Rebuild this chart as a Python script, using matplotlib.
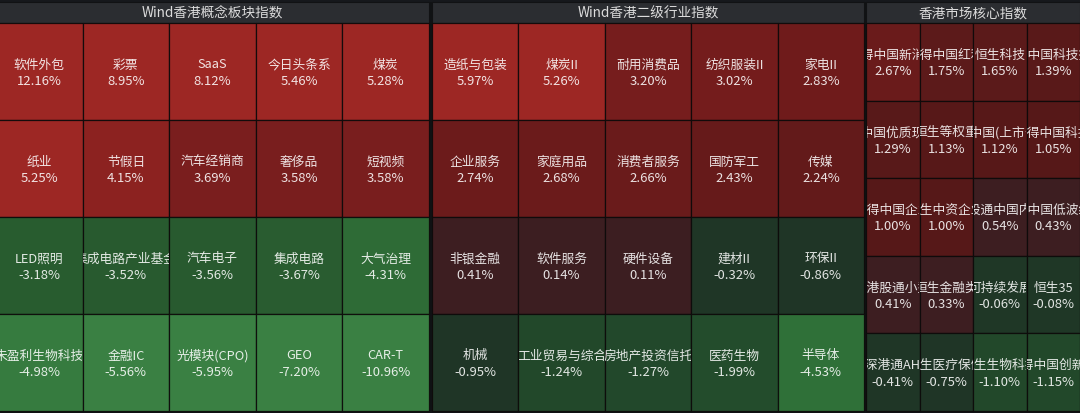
import numpy as np
import matplotlib
matplotlib.use("Agg")
import matplotlib.pyplot as plt
from matplotlib.patches import Rectangle
from matplotlib.transforms import Bbox, TransformedBbox

plt.rcParams['font.family'] = ['Noto Sans CJK SC', 'DejaVu Sans']

# ---------------- data ----------------
panel_titles = ["Wind香港概念板块指数", "Wind香港二级行业指数", "香港市场核心指数"]

concept_names = ["软件外包", "彩票", "SaaS", "今日头条系", "煤炭",
                 "纸业", "节假日", "汽车经销商", "奢侈品", "短视频",
                 "LED照明", "集成电路产业基金", "汽车电子", "集成电路", "大气治理",
                 "未盈利生物科技", "金融IC", "光模块(CPO)", "GEO", "CAR-T"]
concept_values = [12.16, 8.95, 8.12, 5.46, 5.28,
                  5.25, 4.15, 3.69, 3.58, 3.58,
                  -3.18, -3.52, -3.56, -3.67, -4.31,
                  -4.98, -5.56, -5.95, -7.20, -10.96]

industry_names = ["造纸与包装", "煤炭II", "耐用消费品", "纺织服装II", "家电II",
                  "企业服务", "家庭用品", "消费者服务", "国防军工", "传媒",
                  "非银金融", "软件服务", "硬件设备", "建材II", "环保II",
                  "机械", "工业贸易与综合", "房地产投资信托", "医药生物", "半导体"]
industry_values = [5.97, 5.26, 3.20, 3.02, 2.83,
                   2.74, 2.68, 2.66, 2.43, 2.24,
                   0.41, 0.14, 0.11, -0.32, -0.86,
                   -0.95, -1.24, -1.27, -1.99, -4.53]

core_names = ["万得中国新消费", "万得中国红利", "恒生科技", "恒生中国科技指数",
              "恒生中国优质现金流", "恒生等权重", "恒生中国(上市公司)", "万得中国科技",
              "万得中国企业", "恒生中资企业", "港股通中国内地", "恒生中国低波红利",
              "恒生港股通小型股", "恒生金融类", "可持续发展", "恒生35",
              "沪深港通AH股", "恒生医疗保健", "恒生生物科技", "万得中国创新药"]
core_values = [2.67, 1.75, 1.65, 1.39,
               1.29, 1.13, 1.12, 1.05,
               1.00, 1.00, 0.54, 0.43,
               0.41, 0.33, -0.06, -0.08,
               -0.41, -0.75, -1.10, -1.15]

# ---------------- style: colour scale ----------------
POS_STOPS = [0.0, 0.999, 1.0, 1.8, 2.2, 2.7, 3.0, 3.7, 4.15, 5.0]
POS_RGB = [(60, 30, 33), (62, 30, 33), (86, 24, 24), (92, 26, 26), (98, 26, 26),
           (107, 27, 27), (116, 28, 28), (122, 30, 30), (140, 34, 32), (157, 39, 36)]
NEG_STOPS = [-5.2, -4.98, -4.5, -4.3, -3.6, -3.1, -2.0, -1.0, -0.999, 0.0]
NEG_RGB = [(58, 128, 67), (54, 123, 63), (47, 111, 56), (46, 107, 54), (40, 90, 47),
           (40, 92, 47), (35, 76, 44), (34, 71, 42), (31, 53, 38), (31, 55, 38)]


def cell_color(v):
    if v >= 0:
        stops, rgb = POS_STOPS, POS_RGB
    else:
        stops, rgb = NEG_STOPS, NEG_RGB
    arr = np.array(rgb, dtype=float)
    return tuple(np.interp(v, stops, arr[:, k]) / 255.0 for k in range(3))


# ---------------- layout ----------------
W, H = 1080, 414
TOP, HEAD_H, BOTTOM = 3, 21, 412
panels = [
    dict(x0=-4, x1=429, ncols=5, nrows=4, names=concept_names, values=concept_values),
    dict(x0=432, x1=864, ncols=5, nrows=4, names=industry_names, values=industry_values),
    dict(x0=866, x1=1080, ncols=4, nrows=5, names=core_names, values=core_values),
]

fig = plt.figure(figsize=(W / 100, H / 100), dpi=100)
fig.patch.set_facecolor('#101215')
ax = fig.add_axes([0, 0, 1, 1])
ax.set_xlim(0, W)
ax.set_ylim(H, 0)
ax.axis('off')

# top strip
ax.add_patch(Rectangle((0, 0), W, TOP, fc='#16181c', ec='none'))

text_col = (1, 1, 1, 0.87)
for p, title in zip(panels, panel_titles):
    x0, x1 = p['x0'], p['x1']
    ax.add_patch(Rectangle((x0, TOP), x1 - x0, HEAD_H, fc='#2b2d31',
                           ec='#111214', lw=0.8))
    ax.text((x0 + x1) / 2, TOP + HEAD_H / 2, title, ha='center', va='center',
            fontsize=9.8, color='#dcdcdc')
    y0 = TOP + HEAD_H
    cw = (x1 - x0) / p['ncols']
    ch = (BOTTOM - y0) / p['nrows']
    for i, (name, val) in enumerate(zip(p['names'], p['values'])):
        r, c = divmod(i, p['ncols'])
        cx0 = x0 + c * cw
        cy0 = y0 + r * ch
        rect = Rectangle((cx0, cy0), cw, ch, fc=cell_color(val),
                         ec=(0.05, 0.04, 0.04, 0.9), lw=0.9)
        ax.add_patch(rect)
        xc = cx0 + cw / 2
        yc = cy0 + ch / 2
        clip = TransformedBbox(Bbox([[cx0 + 0.5, cy0], [cx0 + cw - 0.5, cy0 + ch]]),
                               ax.transData)
        t1 = ax.text(xc, yc - 7.5, name, ha='center', va='center',
                     fontsize=9.2, color=text_col, clip_on=True)
        t2 = ax.text(xc, yc + 9, f"{val:.2f}%", ha='center', va='center',
                     fontsize=9.4, color=text_col, clip_on=True)
        t1.set_clip_box(clip)
        t2.set_clip_box(clip)

fig.savefig('out.png', dpi=100, facecolor=fig.get_facecolor())
